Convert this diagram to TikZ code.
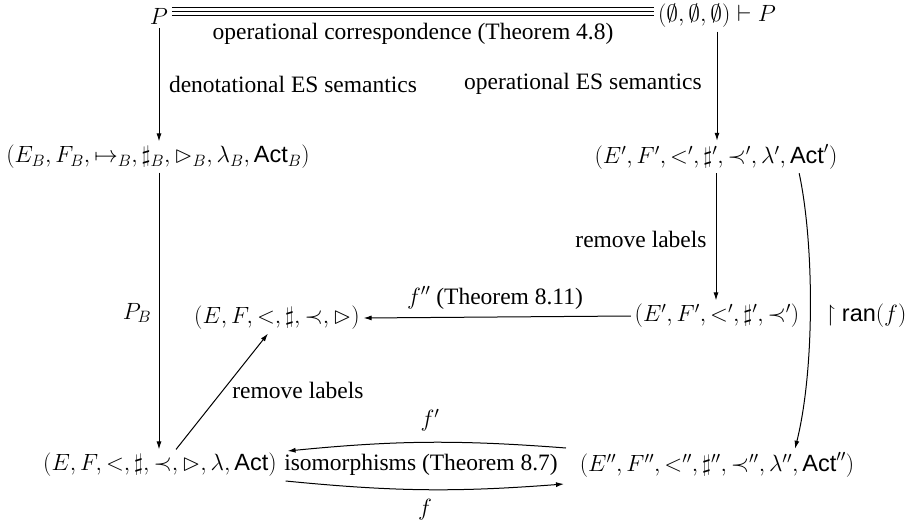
\RequirePackage{fix-cm}
\documentclass[tikz,border=0pt]{standalone}
\usepackage{amsmath,amssymb}
\usepackage{fontspec}
\setmainfont{Liberation Serif}
\setsansfont{Liberation Sans}
\newcommand\Act{\text{\sffamily Act}}
\newcommand\ranf{\text{\sffamily ran}}
\usetikzlibrary{arrows.meta}
\tikzset{
  arr/.style={-{Latex[length=8pt,width=5pt]}},
  lbl/.style={inner sep=2pt},
  mnode/.style={font=\rmfamily\fontsize{23.5}{28}\selectfont}
}
\begin{document}
\begin{tikzpicture}[x=1pt,y=-1pt,line width=1pt,font=\rmfamily\fontsize{23.5}{28}\selectfont]
\useasboundingbox (0,0) rectangle (906,527);
% main nodes
\node[mnode] (P) at (159,16) {$P$};
\node[mnode] (O) at (717,16) {$(\emptyset,\emptyset,\emptyset)\vdash P$};
\node[mnode] (EB) at (158,157) {$(E_B,F_B,\mapsto_B,\sharp_B,\vartriangleright_B,\lambda_B,\Act_B)$};
\node[mnode] (E2) at (716,157) {$(E',F',<',\sharp',\prec',\lambda',\Act')$};
\node[mnode] (E3) at (277,318) {$(E,F,<,\sharp,\prec,\vartriangleright)$};
\node[mnode] (E3p) at (717,316) {$(E',F',<',\sharp',\prec')$};
\node[mnode] (L4) at (160,465) {$(E,F,<,\sharp,\prec,\vartriangleright,\lambda,\Act)$};
\node (iso) at (421,465) {isomorphisms (Theorem 8.7)};
\node[mnode] (E4) at (717,465) {$(E'',F'',<'',\sharp'',\prec'',\lambda'',\Act'')$};
% label nodes
\node[lbl] (oc) at (413,34) {operational correspondence (Theorem 4.8)};
\node[lbl] (den) at (293,84) {denotational ES semantics};
\node[lbl] (ope) at (583,84) {operational ES semantics};
\node[lbl,mnode] (pb) at (137,313) {$P_B$};
\node[lbl] (rl1) at (641,239) {remove labels};
\node[lbl] (fpp) at (495,298) {$f''$ (Theorem 8.11)};
\node[lbl] (rl2) at (298,390) {remove labels};
\node[lbl,mnode] (fp) at (430,420) {$f'$};
\node[lbl,mnode] (fl) at (425,510) {$f$};
\node[lbl,mnode] (rf) at (866,316) {$\upharpoonright\ranf(f)$};
% triple line
\foreach \yy in {7.5,11.7,15.9}
  \draw[line width=0.8pt] (P.east |- 0,\yy) -- (O.west |- 0,\yy);
% arrows
\draw[arr] (P) -- (P |- EB.north);
\draw[arr] (O) -- (O |- E2.north);
\draw[arr] (P |- EB.south) -- (P |- L4.north);
\draw[arr] (E2) -- (E2 |- E3p.north);
\draw[arr] (E3p.west) -- (E3.east);
\draw[arr] ([xshift=16pt]L4.north) -- ([xshift=-9pt]E3.south);
\draw[arr] ([shift={(-10,-17)}]E4.west) to[bend right=5] ([shift={(7,-14)}]L4.east);
\draw[arr] ([shift={(5,16)}]L4.east) to[bend right=5] ([shift={(-12,19)}]E4.west);
\draw[arr] ([xshift=-42pt]E2.south east) .. controls +(15,70) and +(20,-80) .. ([xshift=78pt]E4.north);
\end{tikzpicture}
\end{document}
